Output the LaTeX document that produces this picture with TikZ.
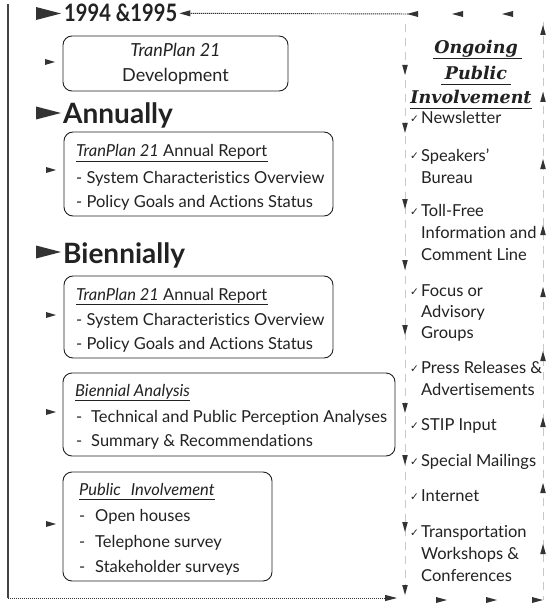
\documentclass[tikz,border=0pt]{standalone}
\usepackage{fontspec}
\setmainfont{Lato}[Ligatures={NoCommon,TeX}]
\newfontfamily\pifont{DejaVu Serif}
\newfontfamily\chkfont{DejaVu Sans}
\usetikzlibrary{arrows.meta}
\definecolor{ink}{HTML}{222222}
\definecolor{arrowc}{HTML}{333333}
\definecolor{lightln}{HTML}{C8C8C8}
\begin{document}
\begin{tikzpicture}[x=1pt,y=-1pt,
  txt/.style={inner sep=0pt, anchor=base west, text=ink, font=\fontsize{16.5}{20}\selectfont},
  ctxt/.style={txt, anchor=base, font=\fontsize{18}{20}\selectfont},
  head/.style={inner sep=0pt, anchor=base west, text=ink, font=\fontsize{28}{30}\selectfont\bfseries},
  pihead/.style={inner sep=0pt, anchor=base, text=ink, font=\pifont\fontsize{17.5}{20}\selectfont\bfseries\itshape},
  chk/.style={inner sep=0pt, anchor=base west, text=ink, font=\chkfont\fontsize{10.5}{11}\selectfont},
  boxn/.style={draw=ink, line width=0.9pt, rounded corners=9pt, inner sep=0pt},
  frame/.style={draw=ink!85, line width=1.2pt},
  dotln/.style={draw=arrowc, line width=0.9pt, dash pattern=on 1.2pt off 0.8pt},
  colln/.style={draw=lightln, line width=0.6pt, dash pattern=on 8pt off 6pt},
  uline/.style={draw=ink, line width=0.7pt},
  larr/.pic={\fill[arrowc] (0,0) -- (11,-3) -- (11,3) -- cycle;},
  rarr/.pic={\fill[arrowc] (0,0) -- (-11,-3) -- (-11,3) -- cycle;},
  darr/.pic={\fill[arrowc] (0,0) -- (-2.8,-10) -- (2.8,-10) -- cycle;},
  uarr/.pic={\fill[arrowc] (0,0) -- (-2.8,10) -- (2.8,10) -- cycle;},
  bigarr/.pic={\fill[arrowc] (0,0) -- (-25,-6.5) -- (-25,6.5) -- cycle;},
  smarr/.pic={\fill[arrowc] (0,0) -- (-10,-3) -- (-10,3) -- cycle;}
]
\useasboundingbox (0,0) rectangle (548,604);
\fill[white] (0,0) rectangle (548,604);

% ---------- frame lines ----------
\coordinate (tl) at (8,4);
\coordinate (bl) at (8,598);
\coordinate (bend) at (397,598);
\coordinate (tstart) at (418,14);
\coordinate (mtop) at (405,24);
\coordinate (mbot) at (405,596);
\coordinate (rtop) at (543,22);
\coordinate (rbot) at (543,600);
\draw[frame] (tl) -- (bl);
\draw[colln] (mtop) -- (mbot);
\draw[colln] (rtop) -- (rbot);

% ---------- headings ----------
\node[head, font=\fontsize{24}{26}\selectfont\bfseries] (y94) at (64,22) {\scalebox{0.84}[1]{1994 \&1995}};
\node[head] (annual) at (63,124) {Annually};
\node[head] (bienn) at (63,263) {Biennially};
\pic at (61,13.5) {bigarr};
\pic at (61,113) {bigarr};
\pic at (61,252) {bigarr};

\draw[dotln, -{Triangle[length=11pt,width=6pt]}] (tstart) -- ([xshift=2pt]y94.east);
\draw[dotln, -{Triangle[length=12pt,width=6pt]}] (bl) -- (bend);
\pic at (407,14) {larr};
\pic at (452,14) {larr};
\pic at (502,14) {larr};
\pic at (447,600) {rarr};
\pic at (497,600) {rarr};
\pic at (543,600) {rarr};

% ---------- boxes ----------
\node[boxn, minimum width=225pt, minimum height=55pt] (b1) at (175.5,63.5) {};
\node[boxn, minimum width=269pt, minimum height=84pt] (b2) at (198.5,174) {};
\node[boxn, minimum width=269pt, minimum height=82pt] (b3) at (198.5,317) {};
\node[boxn, minimum width=332pt, minimum height=83pt] (b4) at (229,414.5) {};
\node[boxn, minimum width=209pt, minimum height=109pt] (b5) at (167.5,526.5) {};
\pic at (55,62) {smarr};
\pic at (56,170) {smarr};
\pic at (56,315) {smarr};
\pic at (56,412) {smarr};
\pic at (56,524) {smarr};

% box 1
\node[ctxt] (b1a) at (175.5,57) {\itshape TranPlan 21};
\node[ctxt] (b1b) at (175.5,82) {Development};
% box 2
\node[txt] (b2a) at (76,157) {{\itshape TranPlan 21} Annual Report};
\draw[uline] ([yshift=-4.5pt]b2a.base west) -- ([yshift=-4.5pt]b2a.base east);
\node[txt] (b2b) at (76,183) {- System Characteristics Overview};
\node[txt] (b2c) at (76,207) {- Policy Goals and Actions Status};
% box 3
\node[txt] (b3a) at (76,300) {{\itshape TranPlan 21} Annual Report};
\draw[uline] ([yshift=-4.5pt]b3a.base west) -- ([yshift=-4.5pt]b3a.base east);
\node[txt] (b3b) at (76,325) {- System Characteristics Overview};
\node[txt] (b3c) at (76,349) {- Policy Goals and Actions Status};
% box 4
\node[txt] (b4a) at (75,396) {\itshape Biennial Analysis};
\draw[uline] ([yshift=-4.5pt]b4a.base west) -- ([yshift=-4.5pt]b4a.base east);
\node[txt] (b4d1) at (76,422) {-};
\node[txt] (b4b) at (91,422) {Technical and Public Perception Analyses};
\node[txt] (b4d2) at (76,446) {-};
\node[txt] (b4c) at (91,446) {Summary \& Recommendations};
% box 5
\node[txt] (b5a) at (79,495) {\itshape Public\hspace{0.6em}Involvement};
\draw[uline] ([yshift=-4.5pt]b5a.base west) -- ([yshift=-4.5pt]b5a.base east);
\node[txt] (b5d1) at (79,521) {-};
\node[txt] (b5b) at (95,521) {Open houses};
\node[txt] (b5d2) at (79,547) {-};
\node[txt] (b5c) at (95,547) {Telephone survey};
\node[txt] (b5d3) at (79,572) {-};
\node[txt] (b5e) at (95,572) {Stakeholder surveys};

% ---------- right column ----------
\node[pihead] (og) at (476,54) {Ongoing};
\draw[uline] ([yshift=-4.5pt,xshift=-1pt]og.base west) -- ([yshift=-4.5pt,xshift=4pt]og.base east);
\node[pihead] (pb) at (476,80) {Public};
\draw[uline] ([yshift=-4.5pt,xshift=-4pt]pb.base west) -- ([yshift=-4.5pt,xshift=4pt]pb.base east);
\node[pihead] (iv) at (471,104) {Involvement};
\draw[uline] ([yshift=-4.5pt]iv.base west) -- ([yshift=-4.5pt]iv.base east);

\foreach \y/\t [count=\i] in {124/Newsletter, 161/Speakers', 216/Toll-Free, 296/Focus or, 373/Press Releases \&, 430/STIP Input, 466/Special Mailings, 501/Internet, 537/Transportation}{
  \node[chk] (ck\i) at (410,\y-1) {✓};
  \node[txt] (it\i) at (421,\y) {\t};
}
\foreach \y/\t [count=\i] in {183/Bureau, 238/Information and, 260/Comment Line, 317/Advisory, 338/Groups, 395/Advertisements, 559/Workshops \&, 581/Conferences}{
  \node[txt] (cont\i) at (421,\y) {\t};
}

% column arrowheads
\foreach \y in {75,133,209,270,335,413,465,532,595}{ \pic at (405,\y) {darr}; }
\foreach \y in {25,92,159,225,287,351,417,483,544}{ \pic at (543,\y) {uarr}; }
\end{tikzpicture}
\end{document}
